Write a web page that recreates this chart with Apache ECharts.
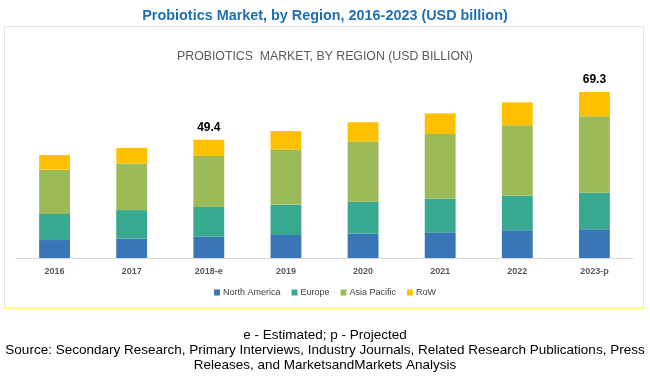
<!DOCTYPE html>
<html>
<head>
<meta charset="utf-8">
<script src="https://cdn.jsdelivr.net/npm/echarts@6/dist/echarts.min.js"></script>
<style>
html,body{margin:0;padding:0;background:#fff;}
#chart{width:650px;height:388px;}
</style>
</head>
<body>
<div id="chart"></div>
<script>
var categories = ["2016", "2017", "2018-e", "2019", "2020", "2021", "2022", "2023-p"];
var northAmerica = [7.5, 8.1, 8.9, 9.6, 10.1, 10.7, 11.6, 12.0];
var europe = [10.9, 11.9, 12.4, 12.7, 13.4, 14.0, 14.4, 15.3];
var asiaPacific = [18.5, 19.5, 21.3, 23.0, 25.1, 27.1, 29.4, 31.9];
var row = [6.1, 6.5, 6.8, 7.7, 8.1, 8.6, 9.6, 10.1];
var totalLabels = ["", "", "49.4", "", "", "", "", "69.3"];

var FONT = "'Liberation Sans', sans-serif";
var FOOT = "13.5px 'Liberation Sans', sans-serif";
var chart = echarts.init(document.getElementById('chart'));

function mk(name, data, color, isTop) {
  var s = {
    name: name, type: 'bar', stack: 'total', data: data, barWidth: '40%',
    itemStyle: { color: color },
    emphasis: { disabled: true }
  };
  if (isTop) {
    s.label = {
      show: true, position: 'top', distance: 6,
      formatter: function (p) { return totalLabels[p.dataIndex]; },
      fontFamily: FONT, fontWeight: 'bold', fontSize: 12, color: '#000'
    };
  }
  return s;
}

chart.setOption({
  animation: false,
  title: [{
    text: 'Probiotics Market, by Region, 2016-2023 (USD billion)',
    left: 'center', top: 4,
    textStyle: { fontFamily: FONT, fontWeight: 'bold', fontSize: 14.4, color: '#1F6FB5' }
  }, {
    text: 'PROBIOTICS  MARKET, BY REGION (USD BILLION)',
    left: 'center', top: 46,
    textStyle: { fontFamily: FONT, fontWeight: 'normal', fontSize: 12.3, color: '#595959' }
  }],
  legend: {
    bottom: 86, left: 'center',
    itemWidth: 6, itemHeight: 6, itemGap: 11,
    icon: 'rect',
    textStyle: { fontFamily: FONT, fontSize: 9, color: '#404040', padding: [0, 0, 0, -2] },
    data: ['North America', 'Europe', 'Asia Pacific', 'RoW']
  },
  grid: { left: 16, right: 17, top: 78.4, bottom: 130 },
  xAxis: {
    type: 'category', data: categories,
    axisLine: { lineStyle: { color: '#D9D9D9' } },
    axisTick: { show: false },
    axisLabel: { fontFamily: FONT, fontWeight: 'bold', fontSize: 9, color: '#595959', margin: 9 }
  },
  yAxis: { type: 'value', min: 0, max: 75, show: false, splitLine: { show: false } },
  series: [
    mk('North America', northAmerica, '#3A75B8'),
    mk('Europe', europe, '#38A990'),
    mk('Asia Pacific', asiaPacific, '#9BBB59'),
    mk('RoW', row, '#FFC000', true)
  ],
  graphic: [
    { type: 'rect', silent: true, z: -10, shape: { x: 4.5, y: 26.5, width: 639, height: 281 },
      style: { fill: 'none', stroke: '#E6E6D8', lineWidth: 1 } },
    { type: 'rect', silent: true, z: -10, shape: { x: 4, y: 307, width: 641, height: 2 },
      style: { fill: '#FFFF80' } },
    { type: 'text', left: 'center', top: 328,
      style: { text: 'e - Estimated; p - Projected', font: FOOT, fill: '#000' } },
    { type: 'text', left: 'center', top: 343,
      style: { text: 'Source: Secondary Research, Primary Interviews, Industry Journals, Related Research Publications, Press', font: FOOT, fill: '#000' } },
    { type: 'text', left: 'center', top: 358,
      style: { text: 'Releases, and MarketsandMarkets Analysis', font: FOOT, fill: '#000' } }
  ]
});
</script>
</body>
</html>
